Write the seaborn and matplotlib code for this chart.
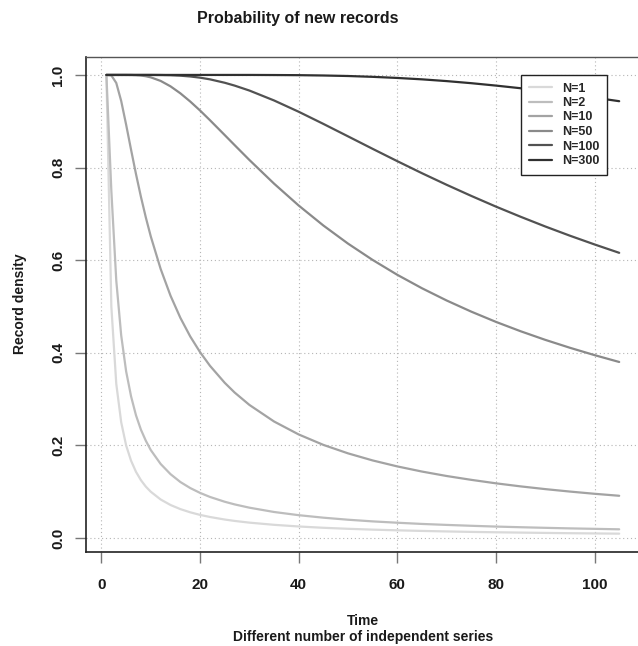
import numpy as np
import pandas as pd
import matplotlib
matplotlib.use("Agg")
import matplotlib.pyplot as plt
from matplotlib.lines import Line2D
import seaborn as sns

# Time steps at which the record probability is tabulated
time = [1, 2, 3, 4, 5, 6, 7, 8, 9, 10, 12, 14, 16, 18, 20, 22, 25, 27, 30, 35,
        40, 45, 50, 55, 60, 65, 70, 75, 80, 85, 90, 95, 100, 105]

# Probability of a new record for N independent series
n1 = [1.0, 0.5, 0.333, 0.25, 0.2, 0.167, 0.143, 0.125, 0.111, 0.1, 0.0833,
      0.0714, 0.0625, 0.0556, 0.05, 0.0455, 0.04, 0.037, 0.0333, 0.0286, 0.025,
      0.0222, 0.02, 0.0182, 0.0167, 0.0154, 0.0143, 0.0133, 0.0125, 0.0118,
      0.0111, 0.0105, 0.01, 0.0095]
n2 = [1.0, 0.75, 0.556, 0.4375, 0.36, 0.306, 0.265, 0.234, 0.21, 0.19, 0.16,
      0.138, 0.121, 0.108, 0.0975, 0.0888, 0.0784, 0.0727, 0.0656, 0.0563,
      0.0494, 0.044, 0.0396, 0.036, 0.0331, 0.0305, 0.0284, 0.0265, 0.0248,
      0.0234, 0.0221, 0.0209, 0.0199, 0.0189]
n10 = [1.0, 0.999, 0.9827, 0.9437, 0.8926, 0.8385, 0.7859, 0.7369, 0.692,
       0.6513, 0.5811, 0.5234, 0.4755, 0.4353, 0.4013, 0.372, 0.3352, 0.3143,
       0.2875, 0.2517, 0.2237, 0.2012, 0.1829, 0.1676, 0.1547, 0.1436, 0.134,
       0.1257, 0.1182, 0.1116, 0.1057, 0.1004, 0.0956, 0.0913]
n50 = [1.0, 1.0, 1.0, 1.0, 1.0, 0.9999, 0.9995, 0.9987, 0.9972, 0.9948, 0.9871,
       0.9754, 0.9603, 0.9426, 0.9231, 0.9023, 0.8701, 0.8485, 0.8164, 0.7653,
       0.718, 0.6749, 0.6358, 0.6005, 0.5684, 0.5394, 0.513, 0.4889, 0.4668,
       0.4466, 0.428, 0.4109, 0.395, 0.3802]
n100 = [1.0, 1.0, 1.0, 1.0, 1.0, 1.0, 1.0, 1.0, 1.0, 1.0, 0.9998, 0.9994,
        0.9984, 0.9967, 0.9941, 0.9905, 0.9831, 0.977, 0.9663, 0.9449, 0.9205,
        0.8943, 0.8674, 0.8404, 0.8138, 0.7878, 0.7628, 0.7388, 0.7157, 0.6938,
        0.6728, 0.6529, 0.634, 0.6159]
n300 = [1.0, 1.0, 1.0, 1.0, 1.0, 1.0, 1.0, 1.0, 1.0, 1.0, 1.0, 1.0, 1.0, 1.0,
        1.0, 1.0, 1.0, 1.0, 1.0, 0.9998, 0.9995, 0.9988, 0.9977, 0.9959, 0.9935,
        0.9905, 0.9867, 0.9822, 0.977, 0.9713, 0.965, 0.9582, 0.951, 0.9433]

series_labels = ["N=1", "N=2", "N=10", "N=50", "N=100", "N=300"]
series_values = [n1, n2, n10, n50, n100, n300]
greys = ["#d9d9d9", "#bdbdbd", "#a3a3a3", "#8a8a8a", "#525252", "#303030"]

x_ticks = [0, 20, 40, 60, 80, 100]
y_ticks = [0.0, 0.2, 0.4, 0.6, 0.8, 1.0]

df = pd.DataFrame({
    "Time": np.tile(time, len(series_labels)),
    "Record density": np.concatenate(series_values),
    "Series": np.repeat(series_labels, len(time)),
})

sns.set_theme(style="white")
plt.rcParams["font.family"] = ["Liberation Sans", "DejaVu Sans"]
plt.rcParams["font.weight"] = "bold"

fig = plt.figure(figsize=(6.38, 6.46), dpi=100)
W, H = 638, 646
ax = fig.add_axes([85.9 / W, 1 - 552 / H, (639.7 - 85.9) / W, (552 - 56.6) / H])

sns.lineplot(data=df, x="Time", y="Record density", hue="Series",
             hue_order=series_labels, palette=greys, linewidth=1.6,
             legend=False, ax=ax, zorder=3)

ax.set_xlim(-3.16, 109.16)
ax.set_ylim(-0.0301, 1.0396)
ax.set_xticks(x_ticks)
ax.set_yticks(y_ticks)
ax.set_xticklabels([str(v) for v in x_ticks], fontsize=11, fontweight="bold")
ax.set_yticklabels([f"{v:.1f}" for v in y_ticks], fontsize=11,
                   fontweight="bold", rotation=90, va="center")
ax.tick_params(axis="both", which="major", bottom=True, left=True,
               length=8, width=1, color="#777777", direction="out",
               labelcolor="#1a1a1a")
ax.tick_params(axis="x", pad=11)
ax.tick_params(axis="y", pad=7)

# dotted grid
ax.grid(True, linestyle=(0, (1, 2.5)), color="#b5b5b5", linewidth=0.8, zorder=0)

for side in ["top", "right"]:
    ax.spines[side].set_color("#555555")
    ax.spines[side].set_linewidth(1.0)
ax.spines["bottom"].set_color("#222222")
ax.spines["left"].set_color("#222222")
ax.spines["bottom"].set_linewidth(1.2)
ax.spines["left"].set_linewidth(1.2)
ax.set_xlabel("")
ax.set_ylabel("")

# legend box
handles = [Line2D([0], [0], color=c, lw=1.6) for c in greys]
leg = fig.legend(handles, series_labels, loc="upper left",
                 bbox_to_anchor=(521 / W, 1 - 75 / H), borderaxespad=0,
                 frameon=True, fancybox=False, handlelength=1.9,
                 handletextpad=0.8, borderpad=0.6, labelspacing=0.2,
                 prop={"weight": "bold", "size": 9})
leg.get_frame().set_edgecolor("#222222")
leg.get_frame().set_linewidth(1.0)
leg.get_frame().set_facecolor("white")
leg.get_frame().set_alpha(1.0)

fig.text(297.5 / W, 1 - 18 / H, "Probability of new records", ha="center",
         va="center", fontsize=11.5, fontweight="bold", color="#1a1a1a")
fig.text(363 / W, 1 - 621 / H, "Time", ha="center", va="center",
         fontsize=10, fontweight="bold", color="#1a1a1a")
fig.text(363 / W, 1 - 637 / H, "Different number of independent series",
         ha="center", va="center", fontsize=10, fontweight="bold", color="#1a1a1a")
fig.text(20 / W, 1 - 304 / H, "Record density", ha="center", va="center",
         rotation=90, fontsize=10, fontweight="bold", color="#1a1a1a")

fig.savefig("out.png", dpi=100)
